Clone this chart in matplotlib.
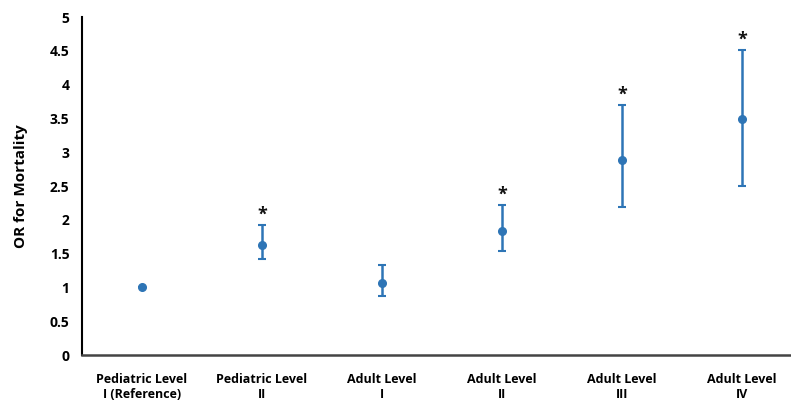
import numpy as np
import matplotlib
matplotlib.use("Agg")
import matplotlib.pyplot as plt

categories = ["Pediatric Level\nI (Reference)", "Pediatric Level\nII", "Adult Level\nI",
              "Adult Level\nII", "Adult Level\nIII", "Adult Level\nIV"]
odds_ratio = [1.00, 1.62, 1.07, 1.84, 2.88, 3.49]
ci_low = [1.00, 1.42, 0.88, 1.54, 2.19, 2.50]
ci_high = [1.00, 1.92, 1.33, 2.22, 3.70, 4.51]
significant = [False, True, False, True, True, True]

POINT_COLOR = "#2E75B6"

plt.rcParams["font.family"] = ["Open Sans", "DejaVu Sans"]

fig = plt.figure(figsize=(7.91, 4.01), dpi=100)
ax = fig.add_axes([0.1037, 0.1147, 0.8963, 0.8429])

x = np.arange(len(categories))
or_arr = np.array(odds_ratio)
yerr = np.vstack([or_arr - np.array(ci_low), np.array(ci_high) - or_arr])

ax.errorbar(x, or_arr, yerr=yerr, fmt="o", color=POINT_COLOR, ecolor=POINT_COLOR,
            markersize=5.5, elinewidth=1.8, capsize=3, capthick=1.5)

# asterisks above significant upper bounds
for xi, hi, sig in zip(x, ci_high, significant):
    if sig:
        ax.annotate("*", (xi, hi), xytext=(0, 1), textcoords="offset points",
                    ha="center", va="bottom", fontsize=13, fontweight="bold", color="#111111")

ax.set_xlim(-0.5, 5.41)
ax.set_ylim(0, 5)
ax.set_yticks(np.arange(0, 5.01, 0.5))
ax.set_yticklabels(["0", "0.5", "1", "1.5", "2", "2.5", "3", "3.5", "4", "4.5", "5"])
ax.set_xticks(x)
ax.set_xticklabels(categories, fontsize=9, fontweight="bold", linespacing=1.2)
for lbl in ax.get_yticklabels():
    lbl.set_fontweight("bold")
    lbl.set_fontsize(10)
ax.tick_params(axis="y", length=0, pad=9)
ax.tick_params(axis="x", length=0, pad=13)

ax.set_ylabel("OR for Mortality", fontsize=11, fontweight="bold", labelpad=16)

for side in ["top", "right"]:
    ax.spines[side].set_visible(False)
ax.spines["left"].set_linewidth(1.5)
ax.spines["bottom"].set_linewidth(1.8)
ax.spines["bottom"].set_color("#444444")

fig.savefig("out.png", dpi=100)
plt.close(fig)
